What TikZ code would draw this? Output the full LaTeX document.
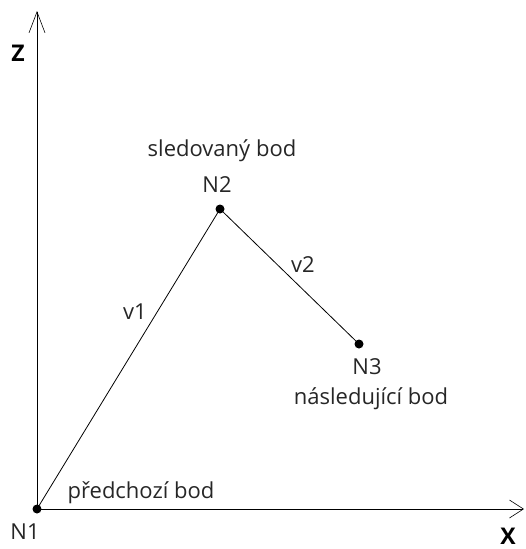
\documentclass[tikz,border=0pt]{standalone}
\usepackage{fontspec}
\setmainfont{Open Sans}
\usetikzlibrary{arrows.meta}
\begin{document}
\begin{tikzpicture}[x=1pt,y=-1pt,
  pt/.style={circle,fill=black,inner sep=0pt,minimum size=9pt},
  lbl/.style={inner sep=0pt,font=\fontsize{22}{26}\selectfont,text=black!85},
  axlbl/.style={inner sep=0pt,font=\fontsize{23}{27}\selectfont\bfseries},
  axis/.style={line width=1pt},
  seg/.style={line width=0.8pt}]
\useasboundingbox (0,0) rectangle (526,549);
\node[pt] (N1) at (37,509) {};
\node[pt] (N2) at (220,209) {};
\node[pt] (N3) at (359,344) {};
\coordinate (ztip) at (37,11);
\coordinate (xtip) at (524,509);
\draw[axis,-{Straight Barb[length=21pt,width=16pt,line width=0.6pt]}] (N1.center) -- (ztip);
\draw[axis,-{Straight Barb[length=14pt,width=18pt,line width=0.6pt]}] (N1.center) -- (xtip);
\draw[seg] (N1.center) -- (N2.center);
\draw[seg] (N2.center) -- (N3.center);
\node[axlbl] (zl) at (18,53) {Z};
\node[axlbl] (xl) at (508,536) {X};
\node[lbl] (n1l) at (25,532) {N1};
\node[lbl] (n2l) at (217,185) {N2};
\node[lbl] (n3l) at (367,367) {N3};
\node[lbl] (sl) at (222,151) {sledovaný bod};
\node[lbl] (nl) at (371,399) {následující bod};
\node[lbl] (pl) at (141,493) {předchozí bod};
\node[lbl] (v1) at (135,312) {v1};
\node[lbl] (v2) at (303,265) {v2};
\end{tikzpicture}
\end{document}
